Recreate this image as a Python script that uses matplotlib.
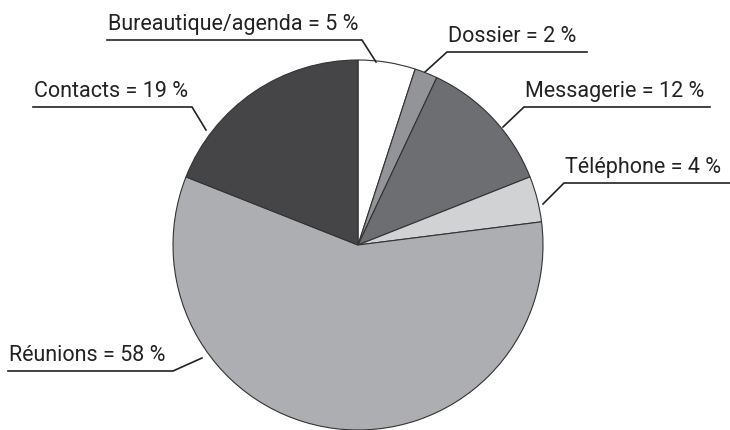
import matplotlib
matplotlib.use("Agg")
import matplotlib.pyplot as plt

W, H = 730, 430

labels = ["Bureautique/agenda", "Dossier", "Messagerie", "Téléphone", "Réunions", "Contacts"]
shares = [5, 2, 12, 4, 58, 19]
colors = ["#ffffff", "#939497", "#6d6e71", "#d1d2d4", "#adaeb1", "#454547"]

# leader lines in pixel coords (y down): underline start, underline end, pie point
leaders = [
    ((107, 40), (362, 40), (376, 62)),
    ((587, 52), (447, 52), (425, 72)),
    ((710, 107), (524, 107), (503, 127)),
    ((730, 183), (564, 183), (543, 204)),
    ((8, 371), (173, 371), (202, 358)),
    ((33, 107), (192, 107), (206, 130)),
]

plt.rcParams["font.family"] = ["Roboto", "DejaVu Sans"]

fig = plt.figure(figsize=(W / 100, H / 100), dpi=100)
ax = fig.add_axes([0, 0, 1, 1])

ax.pie(shares, colors=colors, startangle=90, counterclock=False,
       center=(358, H - 245), radius=185, frame=True,
       wedgeprops=dict(edgecolor="#333333", linewidth=0.8))
ax.set_xlim(0, W)
ax.set_ylim(0, H)
ax.set_aspect("equal")
ax.axis("off")

for lab, val, (a, b, c) in zip(labels, shares, leaders):
    ax.plot([a[0], b[0], c[0]], [H - a[1], H - b[1], H - c[1]],
            color="#222222", lw=1.2, solid_joinstyle="miter")
    x0 = min(a[0], b[0]) + 1
    ax.text(x0, H - a[1] + 5, f"{lab} = {val} %", fontsize=15.5,
            color="#222222", ha="left", va="bottom")

fig.savefig("out.png", dpi=100)
